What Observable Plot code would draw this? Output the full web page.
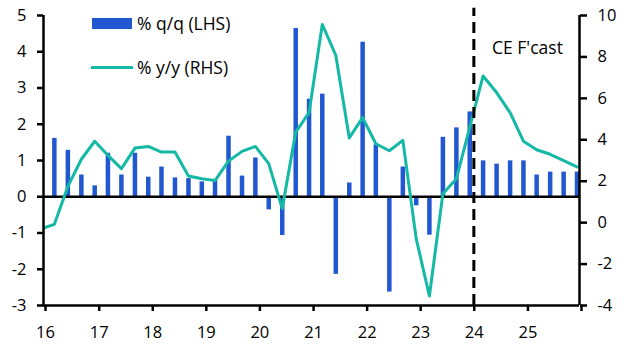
<!DOCTYPE html>
<html>
<head>
<meta charset="utf-8">
<script src="https://cdn.jsdelivr.net/npm/d3@7"></script>
<script src="https://cdn.jsdelivr.net/npm/@observablehq/plot@0.6"></script>
<style>
  body { margin: 0; background: #fff; }
  #chart { position: relative; width: 632px; height: 357px; }
</style>
</head>
<body>
<div id="chart"></div>
<script>
// Quarters for the % q/q bars (LHS)
const quarters = [
  "2016Q1","2016Q2","2016Q3","2016Q4","2017Q1","2017Q2","2017Q3","2017Q4",
  "2018Q1","2018Q2","2018Q3","2018Q4","2019Q1","2019Q2","2019Q3","2019Q4",
  "2020Q1","2020Q2","2020Q3","2020Q4","2021Q1","2021Q2","2021Q3","2021Q4",
  "2022Q1","2022Q2","2022Q3","2022Q4","2023Q1","2023Q2","2023Q3","2023Q4",
  "2024Q1","2024Q2","2024Q3","2024Q4","2025Q1","2025Q2","2025Q3","2025Q4"
];
const qq = [
  1.61, 1.28, 0.60, 0.30, 1.20, 0.60, 1.20, 0.54,
  0.82, 0.52, 0.50, 0.41, 0.45, 1.67, 0.57, 1.07,
  -0.36, -1.07, 4.64, 2.69, 2.83, -2.14, 0.38, 4.26,
  1.43, -2.63, 0.82, -0.25, -1.06, 1.64, 1.90, 2.34,
  0.99, 0.90, 0.99, 0.99, 0.60, 0.68, 0.68, 0.68
];
// Quarters for the % y/y line (RHS)
const yyQuarters = ["2015Q4"].concat(quarters);
const yy = [
  -0.30,
  -0.08, 1.75, 3.06, 3.93, 3.25, 2.61, 3.60, 3.68,
  3.41, 3.41, 2.25, 2.12, 2.03, 2.97, 3.44, 3.68,
  2.85, 0.68, 4.37, 5.31, 9.57, 8.08, 4.09, 5.07,
  3.81, 3.47, 3.97, -0.77, -3.54, 1.40, 2.12, 4.60,
  7.08, 6.28, 5.31, 3.93, 3.52, 3.30, 2.99, 2.69
];
const leftTicks = [-3, -2, -1, 0, 1, 2, 3, 4, 5];
const rightTicks = [-4, -2, 0, 2, 4, 6, 8, 10];
const xYears = [2016, 2017, 2018, 2019, 2020, 2021, 2022, 2023, 2024, 2025, 2026];
const forecastStart = "2024-01-12";
const forecastLabel = "CE F'cast";
const seriesNames = ["% q/q (LHS)", "% y/y (RHS)"];
const colors = { bar: "#2157d0", line: "#14b9a6" };

// helpers
const qDate = s => new Date(Date.UTC(+s.slice(0, 4), +s.slice(5) * 3 - 1, 15));
const yr = y => new Date(Date.UTC(y, 0, 1));
// RHS (-4..10) mapped on LHS (-3..5)
const toLeft = v => -3 + (v + 4) * 8 / 14;
const fromLeft = v => Math.round((v + 3) * 14 / 8 - 4);

const barData = quarters.map((q, i) => ({ date: qDate(q), v: qq[i] }));
const lineData = yyQuarters.map((q, i) => ({ date: qDate(q), v: yy[i] }));

const FONT = "'Open Sans', sans-serif";
const FS = 16.5;
const FS_LABEL = 17.5;

const plot = Plot.plot({
  width: 632,
  height: 357,
  marginLeft: 43,
  marginRight: 53,
  marginTop: 15,
  marginBottom: 52,
  style: { fontFamily: FONT, fontSize: FS + "px", color: "#000", background: "#fff", overflow: "visible" },
  x: { type: "utc", domain: [yr(2016), yr(2026)] },
  y: { domain: [-3, 5] },
  marks: [
    Plot.ruleX(barData, { x: "date", y1: 0, y2: "v", stroke: colors.bar, strokeWidth: 4.5 }),
    Plot.ruleY([0], { stroke: "#000", strokeWidth: 2.5 }),
    Plot.line(lineData, { x: "date", y: d => toLeft(d.v), stroke: colors.line, strokeWidth: 3, clip: true }),
    Plot.ruleX([new Date(forecastStart)], { y1: -3, y2: 5.2, stroke: "#000", strokeWidth: 3, strokeDasharray: "11,6" }),
    Plot.text([forecastLabel], { x: new Date("2024-05-15"), y: 4.1, text: d => d, textAnchor: "start", fontSize: FS_LABEL, fill: "#000" }),
    // axis lines
    Plot.ruleX([yr(2016), yr(2026)], { y1: -3, y2: 5, stroke: "#000", strokeWidth: 2.5 }),
    Plot.ruleY([-3], { stroke: "#000", strokeWidth: 2.5 }),
    Plot.axisY(leftTicks, { anchor: "left", tickSize: 6, tickPadding: 11, strokeWidth: 2.5, tickFormat: d => String(d), label: null, fontSize: FS }),
    Plot.axisY(rightTicks.map(toLeft), { anchor: "right", tickSize: 7, tickPadding: 11, strokeWidth: 2.5, tickFormat: d => String(fromLeft(d)), label: null, fontSize: FS }),
    Plot.axisX(xYears.map(yr), { anchor: "bottom", tickSize: 6, tickPadding: 15, strokeWidth: 2.5, tickFormat: d => d.getUTCFullYear() < 2026 ? String(d.getUTCFullYear() % 100) : "", label: null, fontSize: FS, dx: 2 })
  ]
});

document.getElementById("chart").appendChild(plot);

// legend inside plot area
const svg = d3.select(plot);
const lg = svg.append("g").attr("font-family", FONT).attr("font-size", FS_LABEL).attr("fill", "#000").attr("text-anchor", "start");
lg.append("rect").attr("x", 92).attr("y", 18).attr("width", 40).attr("height", 11).attr("fill", colors.bar);
lg.append("text").attr("x", 137).attr("y", 23.5).attr("dy", "0.35em").attr("text-anchor", "start").text(seriesNames[0]);
lg.append("line").attr("x1", 91).attr("x2", 133).attr("y1", 67.5).attr("y2", 67.5).attr("stroke", colors.line).attr("stroke-width", 3);
lg.append("text").attr("x", 137).attr("y", 67.5).attr("dy", "0.35em").attr("text-anchor", "start").text(seriesNames[1]);
</script>
</body>
</html>
